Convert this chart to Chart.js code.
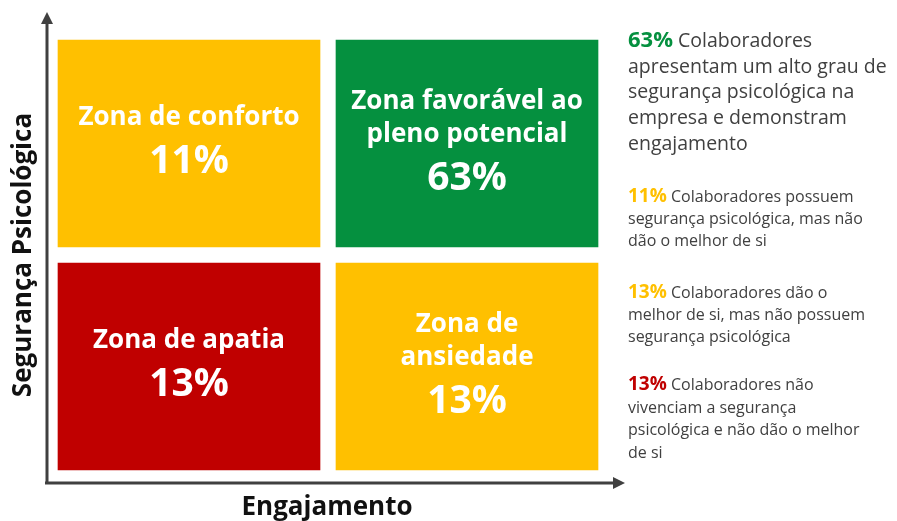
<!DOCTYPE html>
<html><head><meta charset="utf-8">
<script src="https://cdn.jsdelivr.net/npm/chart.js@4.4.0/dist/chart.umd.min.js"></script>
<style>
html,body{margin:0;padding:0;background:#fff;}
#wrap{position:relative;width:897px;height:521px;overflow:hidden;}
#c{position:absolute;left:0;top:0;}
.note{position:absolute;left:628px;font-family:'Open Sans',sans-serif;color:#404040;white-space:nowrap;}
.note b{font-weight:700;}
</style>
</head><body>
<div id="wrap"><canvas id="c" width="897" height="521"></canvas><div id="notes"></div></div>
<script>
// ---- data ----
const engajamento = ['Baixo engajamento', 'Alto engajamento'];
const zonasBaixaSeguranca = [['Zona de apatia'], ['Zona de', 'ansiedade']];
const pctBaixaSeguranca = [13, 13];
const zonasAltaSeguranca = [['Zona de conforto'], ['Zona favorável ao', 'pleno potencial']];
const pctAltaSeguranca = [11, 63];
const notasPct = [63, 11, 13, 13];
const notasTexto = [
  ['Colaboradores', 'apresentam um alto grau de', 'segurança psicológica na', 'empresa e demonstram', 'engajamento'],
  ['Colaboradores possuem', 'segurança psicológica, mas não', 'dão o melhor de si'],
  ['Colaboradores dão o', 'melhor de si, mas não possuem', 'segurança psicológica'],
  ['Colaboradores não', 'vivenciam a segurança', 'psicológica e não dão o melhor', 'de si']
];

const GREEN = '#05903F', YELLOW = '#FFC000', RED = '#C00000', AXIS = '#404040';

// ---- right-side notes ----
const noteStyles = [
  {top: 26, size: 19.5, lh: 25.7, color: GREEN, pctSize: 22},
  {top: 184, size: 16, lh: 22, color: YELLOW, pctSize: 19},
  {top: 280, size: 16, lh: 22, color: YELLOW, pctSize: 19},
  {top: 372, size: 16, lh: 22.7, color: RED, pctSize: 19}
];
const notesEl = document.getElementById('notes');
notasTexto.forEach((lines, i) => {
  const s = noteStyles[i];
  const d = document.createElement('div');
  d.className = 'note';
  d.style.top = s.top + 'px';
  d.style.fontSize = s.size + 'px';
  d.style.lineHeight = s.lh + 'px';
  d.innerHTML = '<b style="color:' + s.color + ';font-size:' + s.pctSize + 'px">' + notasPct[i] + '%</b> ' + lines.join('<br>');
  notesEl.appendChild(d);
});

// ---- plugin: axes with arrows, titles, quadrant labels ----
const quadPlugin = {
  id: 'quad',
  afterDatasetsDraw(chart) {
    const ctx = chart.ctx, a = chart.chartArea;
    ctx.save();
    // axes
    const ax = a.left - 3, ay = a.bottom + 5;
    ctx.strokeStyle = AXIS; ctx.fillStyle = AXIS; ctx.lineWidth = 3;
    ctx.beginPath();
    ctx.moveTo(ax, ay + 1); ctx.lineTo(ax, a.top - 10);
    ctx.moveTo(ax - 2, ay); ctx.lineTo(a.right + 9, ay);
    ctx.stroke();
    ctx.beginPath();
    ctx.moveTo(ax, a.top - 20); ctx.lineTo(ax - 6, a.top - 8); ctx.lineTo(ax + 6, a.top - 8); ctx.closePath(); ctx.fill();
    ctx.beginPath();
    ctx.moveTo(a.right + 19, ay); ctx.lineTo(a.right + 7, ay - 6); ctx.lineTo(a.right + 7, ay + 6); ctx.closePath(); ctx.fill();
    // titles
    ctx.fillStyle = '#111111';
    ctx.font = 'bold 26px "Open Sans", sans-serif';
    ctx.textAlign = 'center'; ctx.textBaseline = 'middle';
    ctx.fillText('Engajamento', (a.left + a.right) / 2 - 1, a.bottom + 30);
    ctx.save();
    ctx.translate(a.left - 26, (a.top + a.bottom) / 2);
    ctx.rotate(-Math.PI / 2);
    ctx.fillText('Segurança Psicológica', 0, 0);
    ctx.restore();
    // quadrant labels
    ctx.fillStyle = '#ffffff';
    const sets = [[zonasBaixaSeguranca, pctBaixaSeguranca], [zonasAltaSeguranca, pctAltaSeguranca]];
    sets.forEach(([names, pcts], di) => {
      chart.getDatasetMeta(di).data.forEach((bar, i) => {
        const p = bar.getProps(['x', 'y', 'base'], true);
        const cx = p.x, cy = (p.y + p.base) / 2;
        const lines = names[i];
        const span = (lines.length - 1) * 33 + 43;
        const y0 = cy - 4 - span / 2;
        ctx.font = 'bold 26px "Open Sans", sans-serif';
        lines.forEach((t, k) => ctx.fillText(t, cx, y0 + k * 33));
        ctx.font = 'bold 39px "Open Sans", sans-serif';
        ctx.fillText(pcts[i] + '%', cx, y0 + (lines.length - 1) * 33 + 44);
      });
    });
    ctx.restore();
  }
};

new Chart(document.getElementById('c'), {
  type: 'bar',
  data: {
    labels: engajamento,
    datasets: [
      {label: 'Baixa segurança psicológica', data: engajamento.map(() => [0, 1]),
       backgroundColor: [RED, YELLOW]},
      {label: 'Alta segurança psicológica', data: engajamento.map(() => [1, 2]),
       backgroundColor: [YELLOW, GREEN]}
    ]
  },
  options: {
    responsive: false,
    animation: false,
    layout: {padding: {left: 50, top: 32, right: 291, bottom: 43}},
    datasets: {bar: {grouped: false, categoryPercentage: 1, barPercentage: 1,
      borderWidth: 8, borderColor: '#ffffff', borderSkipped: false}},
    scales: {
      x: {display: false},
      y: {display: false, min: 0, max: 2}
    },
    plugins: {legend: {display: false}, tooltip: {enabled: false}}
  },
  plugins: [quadPlugin]
});
</script>
</body></html>
